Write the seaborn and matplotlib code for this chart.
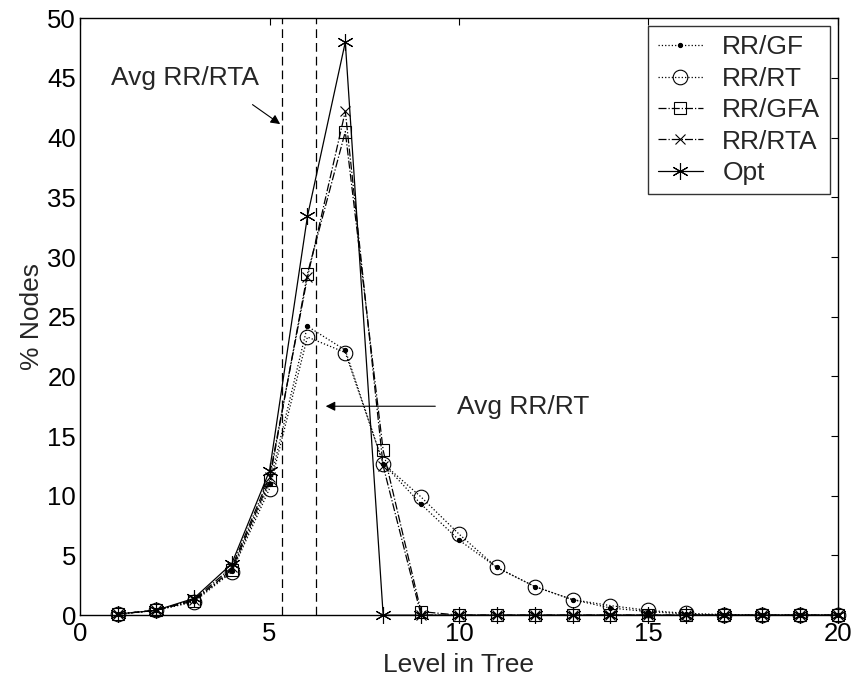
import matplotlib
matplotlib.use("Agg")
import matplotlib.pyplot as plt
import seaborn as sns
import numpy as np
import pandas as pd

levels = list(range(1, 21))
rr_gf  = [0.1, 0.4, 1.2, 3.7, 11.0, 24.2, 22.2, 12.7, 9.3, 6.3, 4.0, 2.4, 1.3, 0.6, 0.3, 0.1, 0.0, 0.0, 0.0, 0.0]
rr_rt  = [0.1, 0.4, 1.1, 3.6, 10.6, 23.3, 22.0, 12.7, 9.9, 6.8, 4.0, 2.4, 1.3, 0.8, 0.4, 0.15, 0.05, 0.0, 0.0, 0.0]
rr_gfa = [0.1, 0.4, 1.2, 3.8, 11.3, 28.6, 40.5, 13.8, 0.3, 0.0, 0.0, 0.0, 0.0, 0.0, 0.0, 0.0, 0.0, 0.0, 0.0, 0.0]
rr_rta = [0.1, 0.4, 1.3, 4.0, 11.6, 28.3, 42.2, 12.5, 0.0, 0.0, 0.0, 0.0, 0.0, 0.0, 0.0, 0.0, 0.0, 0.0, 0.0, 0.0]
opt    = [0.1, 0.4, 1.4, 4.3, 12.1, 33.4, 48.0, 0.0, 0.0, 0.0, 0.0, 0.0, 0.0, 0.0, 0.0, 0.0, 0.0, 0.0, 0.0, 0.0]
series_names = ["RR/GF", "RR/RT", "RR/GFA", "RR/RTA", "Opt"]
avg_rr_rta = 5.34
avg_rr_rt = 6.23

sns.set_theme(style="white")
plt.rcParams['font.family'] = ['Liberation Sans', 'DejaVu Sans']

fig = plt.figure(figsize=(8.53, 6.76), dpi=100)
ax = fig.add_axes([0.094, 0.090, 0.888, 0.883])

FS = 19
styles = [
    dict(linestyle=':', marker='.', markersize=6, mfc='black'),
    dict(linestyle=':', marker='o', markersize=10.5, mfc='none'),
    dict(linestyle='-.', marker='s', markersize=9, mfc='none'),
    dict(linestyle='-.', marker='x', markersize=7, mfc='none'),
    dict(linestyle='-', marker=(6, 2, 0), markersize=12, mfc='none'),
]
data = [rr_gf, rr_rt, rr_gfa, rr_rta, opt]
for name, vals, st in zip(series_names, data, styles):
    sns.lineplot(x=levels, y=vals, ax=ax, color='black', linewidth=0.9,
                 label=name, mec='black', mew=0.8, clip_on=False, **st)

ax.axvline(avg_rr_rta, color='black', linestyle=(0, (7, 4)), linewidth=0.9)
ax.axvline(avg_rr_rt, color='black', linestyle=(0, (7, 4)), linewidth=0.9)

ax.annotate("", xy=(avg_rr_rta, 41.0), xytext=(4.49, 42.9),
            arrowprops=dict(arrowstyle='-|>', color='black', lw=0.8, mutation_scale=14))
ax.text(2.76, 45.0, "Avg RR/RTA", fontsize=FS, ha='center', va='center')
ax.annotate("", xy=(6.41, 17.5), xytext=(9.45, 17.5),
            arrowprops=dict(arrowstyle='-|>', color='black', lw=0.8, mutation_scale=14))
ax.text(9.95, 17.4, "Avg RR/RT", fontsize=FS, ha='left', va='center')

ax.set_xlim(0, 20)
ax.set_ylim(0, 50)
ax.set_xticks(np.arange(0, 21, 5))
ax.set_yticks(np.arange(0, 51, 5))
ax.tick_params(direction='in', top=True, right=True, length=5, labelsize=18.5, width=0.8,
               color='black', labelcolor='black', pad=3)
ax.tick_params(axis='x', pad=5)
for s in ax.spines.values():
    s.set_color('black')
    s.set_linewidth(1.0)
ax.set_xlabel("Level in Tree", fontsize=FS, labelpad=5)
ax.set_ylabel("% Nodes", fontsize=FS, labelpad=2)

leg = ax.legend(loc='upper right', fontsize=FS, frameon=True, fancybox=False,
                edgecolor='black', handlelength=1.7, borderpad=0.35, labelspacing=0.28,
                handletextpad=0.75, borderaxespad=0.3)
leg.get_frame().set_linewidth(1.0)

fig.savefig("out.png", dpi=100)
